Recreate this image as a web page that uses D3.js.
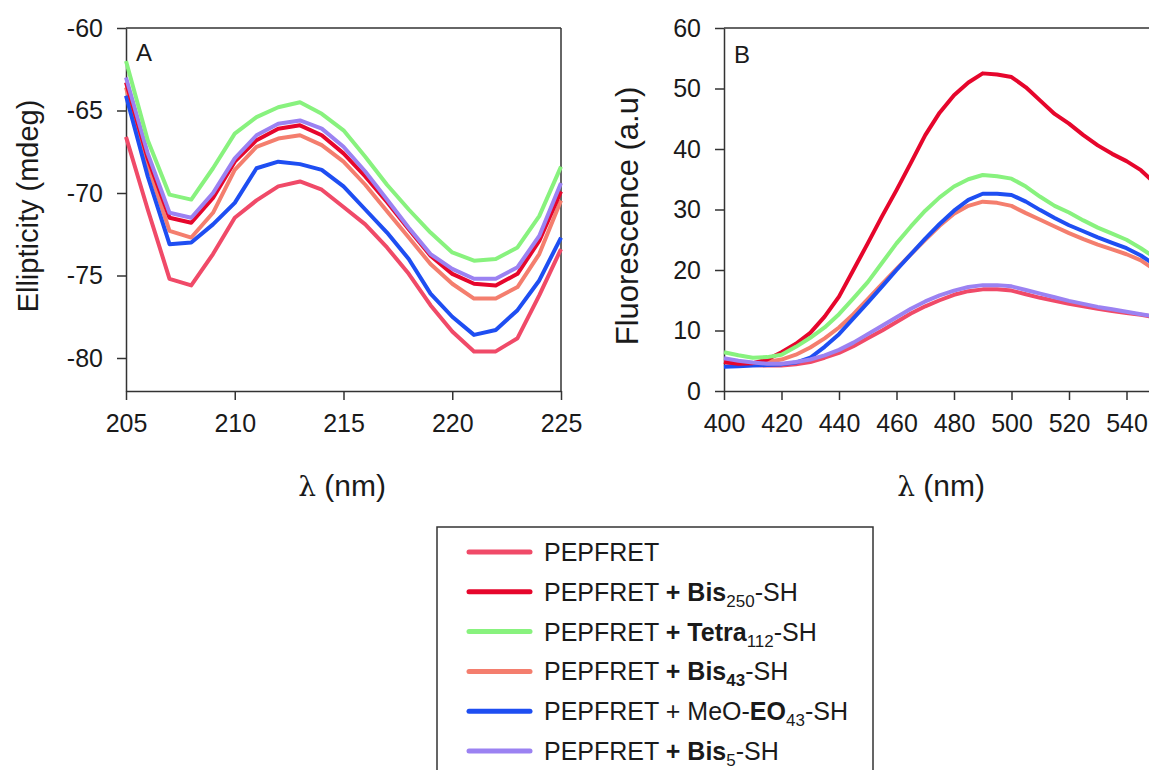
<!DOCTYPE html>
<html><head><meta charset="utf-8">
<script src="https://cdn.jsdelivr.net/npm/d3@7"></script>
<style>
body{margin:0;background:#fff;overflow:hidden;}
svg{display:block;}
text{font-family:"Liberation Sans",Arial,sans-serif;fill:#1a1a1a;}
</style>
</head><body>
<svg id="c" width="1149" height="770"></svg>
<script>
// ---------- data ----------
const seriesNames = ["PEPFRET","PEPFRET + Bis250-SH","PEPFRET + Tetra112-SH","PEPFRET + Bis43-SH","PEPFRET + MeO-EO43-SH","PEPFRET + Bis5-SH"];
const seriesColors = ["#F04A68","#E6062C","#88F27E","#F47E6E","#1E4EF2","#9B82F2"];

// Panel A: circular dichroism
const cdWavelength = [205,206,207,208,209,210,211,212,213,214,215,216,217,218,219,220,221,222,223,224,225];
const cdPEPFRET = [-66.6,-71.0,-75.2,-75.6,-73.7,-71.5,-70.45,-69.6,-69.3,-69.8,-70.85,-71.9,-73.3,-74.9,-76.8,-78.4,-79.6,-79.6,-78.8,-76.2,-73.4];
const cdBis250  = [-63.3,-67.9,-71.5,-71.8,-70.3,-68.1,-66.8,-66.1,-65.9,-66.5,-67.6,-69.0,-70.55,-72.2,-73.8,-74.9,-75.5,-75.6,-74.9,-72.9,-69.9];
const cdTetra112= [-62.0,-66.8,-70.1,-70.4,-68.5,-66.4,-65.4,-64.8,-64.5,-65.2,-66.2,-67.8,-69.5,-71.0,-72.4,-73.6,-74.1,-74.0,-73.3,-71.4,-68.4];
const cdBis43   = [-63.6,-68.3,-72.3,-72.7,-71.2,-68.6,-67.2,-66.7,-66.5,-67.1,-68.1,-69.5,-71.1,-72.7,-74.3,-75.5,-76.4,-76.4,-75.7,-73.7,-70.45];
const cdMeOEO43 = [-64.1,-69.0,-73.1,-73.0,-71.9,-70.6,-68.5,-68.1,-68.25,-68.6,-69.6,-71.0,-72.4,-74.0,-76.1,-77.5,-78.6,-78.3,-77.1,-75.3,-72.7];
const cdBis5    = [-63.0,-67.6,-71.2,-71.5,-70.0,-67.9,-66.5,-65.8,-65.6,-66.1,-67.2,-68.7,-70.4,-72.1,-73.7,-74.6,-75.2,-75.2,-74.5,-72.6,-69.4];

// Panel B: fluorescence
const flWavelength = [400,405,410,415,420,425,430,435,440,445,450,455,460,465,470,475,480,485,490,495,500,505,510,515,520,525,530,535,540,545,550];
const flPEPFRET = [4.8,4.5,4.3,4.2,4.2,4.4,4.8,5.5,6.3,7.4,8.7,10.0,11.4,12.8,14.0,15.0,15.9,16.5,16.8,16.8,16.6,16.0,15.4,14.9,14.4,14.0,13.6,13.2,12.9,12.6,12.2];
const flBis250  = [4.8,4.5,4.6,5.2,6.4,7.8,9.6,12.3,15.6,20.0,24.4,28.9,33.2,37.7,42.3,46.0,48.9,51.0,52.5,52.3,51.9,50.2,48.0,45.8,44.2,42.3,40.6,39.2,38.0,36.5,34.3];
const flTetra112= [6.4,5.9,5.5,5.6,6.0,7.3,8.8,10.5,12.7,15.3,18.0,21.2,24.4,27.2,29.8,32.0,33.8,35.0,35.7,35.5,35.1,33.8,32.1,30.6,29.5,28.2,27.0,26.0,25.0,23.6,22.0];
const flBis43   = [4.8,4.6,4.6,4.8,5.2,6.0,7.2,8.7,10.5,12.7,15.2,17.7,20.2,22.6,25.0,27.3,29.3,30.6,31.3,31.1,30.6,29.4,28.3,27.2,26.1,25.1,24.2,23.4,22.6,21.6,20.0];
const flMeOEO43 = [4.0,4.1,4.2,4.3,4.4,4.7,5.5,7.3,9.4,12.0,14.6,17.3,20.0,22.6,25.2,27.6,29.8,31.6,32.6,32.6,32.4,31.3,29.9,28.6,27.4,26.4,25.4,24.5,23.6,22.4,20.8];
const flBis5    = [5.4,5.0,4.7,4.5,4.5,4.8,5.2,5.9,6.8,8.0,9.4,10.8,12.2,13.6,14.8,15.8,16.6,17.2,17.5,17.5,17.3,16.7,16.1,15.5,14.9,14.4,13.9,13.5,13.1,12.7,12.3];

const cdTicksY = [-80,-75,-70,-65,-60];
const cdTicksX = [205,210,215,220,225];
const flTicksY = [0,10,20,30,40,50,60];
const flTicksX = [400,420,440,460,480,500,520,540,560];

// legend rich labels: [text, bold, subscript]
const legendLabels = [
  [["PEPFRET",0,0]],
  [["PEPFRET ",0,0],["+ ",1,0],["Bis",1,0],["250",0,1],["-SH",0,0]],
  [["PEPFRET ",0,0],["+ ",1,0],["Tetra",1,0],["112",0,1],["-SH",0,0]],
  [["PEPFRET ",0,0],["+ ",1,0],["Bis",1,0],["43",1,1],["-SH",0,0]],
  [["PEPFRET + MeO-",0,0],["EO",1,0],["43",0,1],["-SH",0,0]],
  [["PEPFRET ",0,0],["+ ",1,0],["Bis",1,0],["5",0,1],["-SH",0,0]]
];

// ---------- drawing ----------
const svg = d3.select("#c");
const ink = "#333";

function panel(xDom, xRange, yDom, yRange, xTicks, yTicks, seriesX, seriesY, label, labelPos, yTitle, yTitlePos, yTitleSize, xTitleX){
  const x = d3.scaleLinear().domain(xDom).range(xRange);
  const y = d3.scaleLinear().domain(yDom).range(yRange);
  const g = svg.append("g");
  g.append("line").attr("x1",xRange[0]).attr("x2",xRange[1]).attr("y1",yRange[1]).attr("y2",yRange[1]).attr("stroke",ink).attr("stroke-width",1.5);
  g.append("line").attr("x1",xRange[1]).attr("x2",xRange[1]).attr("y1",yRange[0]).attr("y2",yRange[1]).attr("stroke",ink).attr("stroke-width",1.5);
  const ax = g.append("g").attr("transform",`translate(0,${yRange[0]})`)
    .call(d3.axisBottom(x).tickValues(xTicks).tickFormat(d3.format("d")).tickSize(9).tickPadding(14).tickSizeOuter(0));
  const ay = g.append("g").attr("transform",`translate(${xRange[0]},0)`)
    .call(d3.axisLeft(y).tickValues(yTicks).tickFormat(d3.format("d")).tickSize(9).tickPadding(14).tickSizeOuter(0));
  [ax,ay].forEach(a=>{
    a.selectAll("path,line").attr("stroke",ink).attr("stroke-width",1.5);
    a.selectAll("text").attr("font-size",25).attr("fill","#1a1a1a").style("font-family","'Liberation Sans',Arial,sans-serif");
  });
  ay.selectAll(".tick text").text(d=> d<0 ? "-"+Math.abs(d) : d);
  const line = d3.line().x((d,i)=>x(seriesX[i])).y(d=>y(d));
  const order = [0,3,4,1,5,2];
  order.forEach(k=>{
    g.append("path").datum(seriesY[k]).attr("d",line).attr("fill","none")
      .attr("stroke",seriesColors[k]).attr("stroke-width",4).attr("stroke-linejoin","round");
  });
  g.append("text").attr("x",labelPos[0]).attr("y",labelPos[1]).attr("font-size",24).text(label);
  g.append("text").attr("transform",`translate(${yTitlePos[0]},${yTitlePos[1]}) rotate(-90)`)
    .attr("text-anchor","middle").attr("font-size",yTitleSize).text(yTitle);
  const t = g.append("text").attr("x",xTitleX).attr("y",496).attr("text-anchor","middle").attr("font-size",30);
  t.append("tspan").style("font-family","'DejaVu Serif',serif").attr("font-size",28).text("λ");
  t.append("tspan").text(" (nm)");
}

panel([205,225],[126,561],[-82,-60],[391,28],cdTicksX,cdTicksY,cdWavelength,
  [cdPEPFRET,cdBis250,cdTetra112,cdBis43,cdMeOEO43,cdBis5],"A",[136,61],"Ellipticity (mdeg)",[38,206],29,342);
panel([400,560],[724,1184],[0,60],[391,28],flTicksX,flTicksY,flWavelength,
  [flPEPFRET,flBis250,flTetra112,flBis43,flMeOEO43,flBis5],"B",[734,63],"Fluorescence (a.u)",[638,216],31,941);

// legend
const lg = svg.append("g");
lg.append("rect").attr("x",437).attr("y",527).attr("width",436).attr("height",300)
  .attr("fill","#fff").attr("stroke",ink).attr("stroke-width",1.5);
const rowY = d3.scaleLinear().domain([0,5]).range([552,751]);
legendLabels.forEach((parts,i)=>{
  const yy = rowY(i);
  lg.append("line").attr("x1",469).attr("x2",530).attr("y1",yy).attr("y2",yy)
    .attr("stroke",seriesColors[i]).attr("stroke-width",5).attr("stroke-linecap","round");
  const t = lg.append("text").attr("x",544).attr("y",yy+9).attr("font-size",25);
  let prevSub = false;
  parts.forEach(p=>{
    const s = t.append("tspan").text(p[0]);
    if(p[1]) s.attr("font-weight","bold");
    if(p[2]) { s.attr("font-size",17).attr("dy",6); prevSub = true; }
    else if (prevSub) { s.attr("dy",-6); prevSub = false; }
  });
});
</script>
</body></html>
